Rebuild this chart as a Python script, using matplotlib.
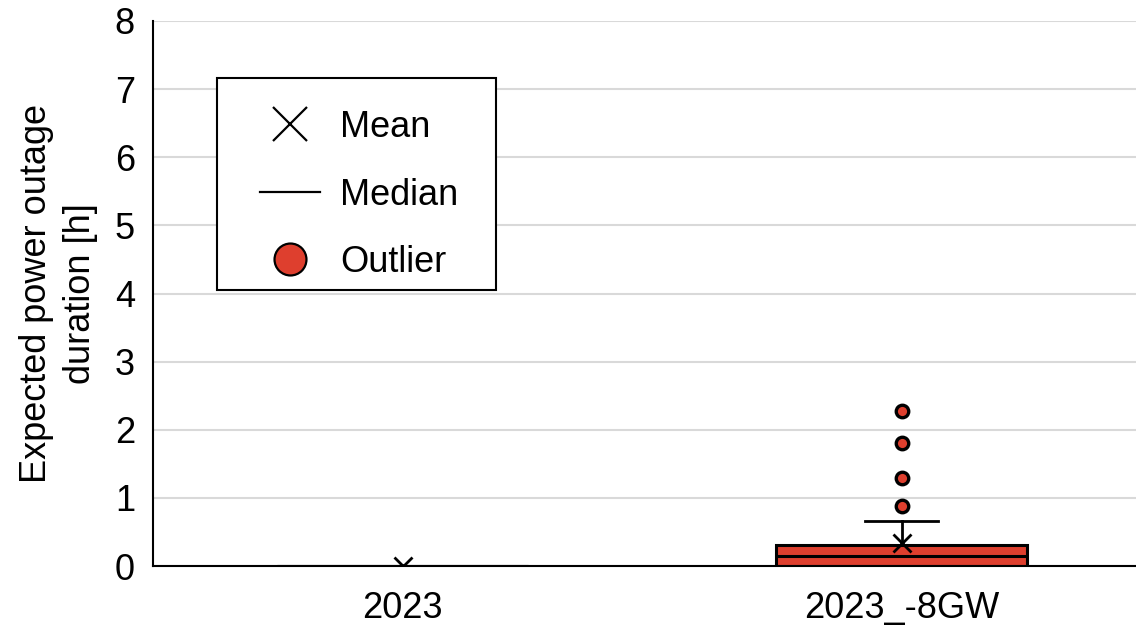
import matplotlib
matplotlib.use("Agg")
import matplotlib.pyplot as plt
from matplotlib.lines import Line2D
from matplotlib.patches import Rectangle

plt.rcParams['font.family'] = ['Liberation Sans', 'DejaVu Sans']

# Box-plot summary statistics per scenario
scenarios = ["2023", "2023_-8GW"]
q1_vals = [0.0, 0.0]
median_vals = [0.0, 0.15]
q3_vals = [0.0, 0.31]
whisker_low = [0.0, 0.0]
whisker_high = [0.0, 0.66]
mean_vals = [0.0, 0.34]
outliers = [[], [0.88, 1.29, 1.81, 2.28]]

y_ticks = [0, 1, 2, 3, 4, 5, 6, 7, 8]

red = '#DE3F2E'

stats = []
for i, name in enumerate(scenarios):
    stats.append(dict(label=name, q1=q1_vals[i], med=median_vals[i], q3=q3_vals[i],
                      whislo=whisker_low[i], whishi=whisker_high[i],
                      mean=mean_vals[i], fliers=outliers[i]))

fig, ax = plt.subplots(figsize=(11.36, 6.26), dpi=100)
fig.subplots_adjust(left=153 / 1136, right=1151 / 1136, top=1 - 21 / 626,
                    bottom=1 - 566 / 626)

ax.bxp(stats, positions=[0, 1], widths=0.502, patch_artist=True, showmeans=True,
       boxprops=dict(facecolor=red, edgecolor='black', linewidth=2.2),
       medianprops=dict(color='black', linewidth=2.2),
       whiskerprops=dict(color='black', linewidth=2),
       capprops=dict(color='black', linewidth=2),
       capwidths=0.148,
       meanprops=dict(marker='x', markeredgecolor='black', markersize=13,
                      markeredgewidth=2),
       flierprops=dict(marker='o', markerfacecolor=red, markeredgecolor='black',
                       markersize=9, markeredgewidth=2.4))

ax.set_xlim(-0.5, 1.5)
ax.set_ylim(0, 8)
ax.set_yticks(y_ticks)
ax.yaxis.grid(True, color='#d9d9d9', linewidth=1.5)
ax.set_axisbelow(True)
ax.tick_params(axis='both', length=0, labelsize=26)
ax.tick_params(axis='y', pad=13)
ax.tick_params(axis='x', pad=18)
for s in ['top', 'right']:
    ax.spines[s].set_visible(False)
for s in ['left', 'bottom']:
    ax.spines[s].set_linewidth(1.5)
    ax.spines[s].set_color('black')

ax.set_ylabel("Expected power outage\nduration [h]", fontsize=26, labelpad=12,
              linespacing=1.35)

# Legend box (frame drawn separately so the inner padding can be set freely)
ax.add_patch(Rectangle((0.064, 0.506), 0.280, 0.389, transform=ax.transAxes,
                       facecolor='white', edgecolor='black', linewidth=1.5,
                       zorder=5, clip_on=False))

handles = [
    Line2D([], [], linestyle='none', marker='x', markersize=25, markeredgewidth=1.6,
           color='black'),
    Line2D([], [], color='black', linewidth=1.6),
    Line2D([], [], linestyle='none', marker='o', markersize=23, markerfacecolor=red,
           markeredgecolor='black', markeredgewidth=1.6),
]
leg = ax.legend(handles, ["Mean", "Median", "Outlier"], loc='upper left',
                bbox_to_anchor=(0.107, 0.8365), fontsize=26, frameon=False,
                labelspacing=0.9, handlelength=1.67, handletextpad=0.55,
                borderpad=0, borderaxespad=0)
leg.set_zorder(6)

fig.savefig("out.png", dpi=100)
